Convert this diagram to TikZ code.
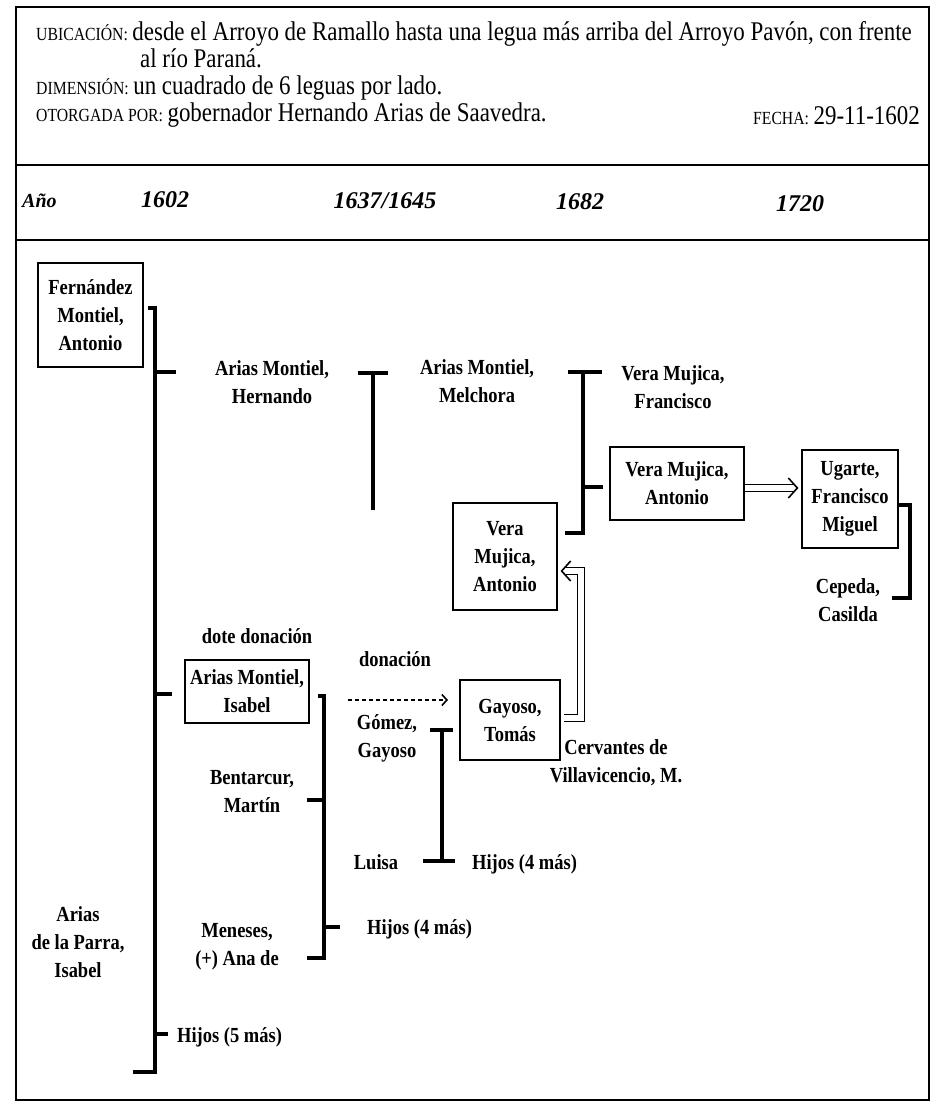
\documentclass[tikz,border=0pt]{standalone}
\usepackage{fontspec}
\setmainfont{Liberation Serif}
\newfontfamily\condfont[FakeStretch=0.85]{Liberation Serif}
\newfontfamily\namefont[FakeStretch=0.86]{Liberation Serif}
\usetikzlibrary{arrows.meta,calc}
\newcommand\hlabel[1]{{\fontsize{18.5}{18.5}\selectfont #1}}
\begin{document}
\begin{tikzpicture}[x=1pt,y=-1pt,
  frame/.style={line width=2pt},
  hd/.style={font=\condfont\fontsize{27}{27}\selectfont, inner sep=0pt, anchor=base west},
  yr/.style={font=\bfseries\itshape\fontsize{24}{24}\selectfont, inner sep=0pt, anchor=base},
  nm/.style={font=\namefont\bfseries\fontsize{21.5}{28}\selectfont, align=center, inner sep=0pt},
  bx/.style={nm, draw, line width=1.3pt},
  br/.style={line width=4pt},
  dotarr/.style={line width=1.6pt, dash pattern=on 4pt off 3pt, -{Straight Barb[length=5pt,width=11pt,line width=1.6pt]}},
  dblline/.style={double, double distance=6pt, line width=1.3pt},
  chev/.style={line width=1.6pt, line join=miter}
]
\useasboundingbox (0,0) rectangle (936,1114);
% frame
\draw[frame] (16,7) rectangle (929,1100);
\draw[frame] (16,165) -- (929,165);
\draw[frame] (16,240) -- (929,240);
% header
\node[hd] (ub1) at (36,40) {\hlabel{UBICACIÓN:}\,desde el Arroyo de Ramallo hasta una legua más arriba del Arroyo Pavón, con frente};
\node[hd] (ub2) at (140,67) {al río Paraná.};
\node[hd] (dim) at (36,94) {\hlabel{DIMENSIÓN:}\,un cuadrado de 6 leguas por lado.};
\node[hd] (oto) at (36,121) {\hlabel{OTORGADA POR:}\,gobernador Hernando Arias de Saavedra.};
\node[hd, anchor=base east] (fec) at (920,124) {\hlabel{FECHA:}\,29-11-1602};
% years
\node[yr, anchor=base west, font=\bfseries\itshape\fontsize{20}{20}\selectfont] (ano) at (22,207) {Año};
\node[yr] (y1) at (165,207) {1602};
\node[yr] (y2) at (385,208) {1637/1645};
\node[yr] (y3) at (580,209) {1682};
\node[yr] (y4) at (800,211) {1720};
% people
\node[bx, minimum width=105pt, minimum height=104pt] (fma) at (90.5,315) {Fernández\\Montiel,\\Antonio};
\node[nm] (ahe) at (272,382) {Arias Montiel,\\Hernando};
\node[nm] (ame) at (477,381) {Arias Montiel,\\Melchora};
\node[nm] (vmf) at (673,387) {Vera Mujica,\\Francisco};
\node[bx, minimum width=134pt, minimum height=73pt] (vma) at (677,483.5) {Vera Mujica,\\Antonio};
\node[bx, minimum width=96pt, minimum height=98pt] (ufm) at (850,499) {Ugarte,\\Francisco\\Miguel};
\node[nm] (cca) at (848,600) {Cepeda,\\Casilda};
\node[bx, minimum width=104pt, minimum height=107pt] (vmb) at (505,556.5) {Vera\\Mujica,\\Antonio};
\node[nm] (dote) at (257,636) {dote donación};
\node[bx, minimum width=124pt, minimum height=63pt] (ami) at (247,691.5) {Arias Montiel,\\Isabel};
\node[nm] (don) at (395,659) {donación};
\node[bx, minimum width=100pt, minimum height=80pt] (gto) at (510,720) {Gayoso,\\Tomás};
\node[nm] (gga) at (387,738) {Gómez,\\Gayoso};
\node[nm] (cvm) at (616,763) {Cervantes de\\Villavicencio, M.};
\node[nm] (bma) at (252,792) {Bentarcur,\\Martín};
\node[nm] (lui) at (376,862) {Luisa};
\node[nm, anchor=west] (h4a) at (472,864) {Hijos (4 más)};
\node[nm] (apa) at (78,942) {Arias\\de la Parra,\\Isabel};
\node[nm] (men) at (237,947) {Meneses,\\(+) Ana de};
\node[nm, anchor=west] (h4b) at (367,929) {Hijos (4 más)};
\node[nm, anchor=west] (h5) at (177,1037) {Hijos (5 más)};
% bracket coordinates
\coordinate (b1t) at (155,308);
\coordinate (b1b) at (155,1072);
\coordinate (b2t) at (373,373);
\coordinate (b2b) at (373,510);
\coordinate (b3t) at (583,372);
\coordinate (b3b) at (583,533);
\coordinate (b4t) at (324,696);
\coordinate (b4b) at (324,958);
\coordinate (b5t) at (910,505);
\coordinate (b5b) at (910,598);
\coordinate (b6t) at (442,730);
\coordinate (b6b) at (442,861);
% bracket Fernández / Arias de la Parra
\draw[br] ($(b1t)+(-7,0)$) -- (b1t) -- (b1b) -- ++(-22,0);
\draw[br] (b1t |- 0,372) -- ++(21,0);
\draw[br] (b1t |- 0,694) -- ++(17,0);
\draw[br] (b1t |- 0,1034) -- ++(13,0);
% T Hernando / Melchora
\draw[br] ($(b2t)+(-15,0)$) -- ($(b2t)+(15,0)$);
\draw[br] (b2t) -- (b2b);
% bracket Melchora / Vera Mujica Francisco
\draw[br] ($(b3t)+(-15,0)$) -- ($(b3t)+(19,0)$);
\draw[br] (b3t) -- (b3b) -- ++(-18,0);
\draw[br] (b3t |- 0,487) -- ++(20,0);
% bracket Ugarte / Cepeda
\draw[br] ($(b5t)+(-12,0)$) -- (b5t) -- (b5b) -- ++(-18,0);
% bracket Isabel
\draw[br] ($(b4t)+(-6,0)$) -- (b4t) -- (b4b) -- ++(-17,0);
\draw[br] (b4t |- 0,800) -- ++(-17,0);
\draw[br] (b4t |- 0,927) -- ++(16,0);
% T Gómez Gayoso / Luisa
\draw[br] ($(b6t)+(-12,0)$) -- ($(b6t)+(11,0)$);
\draw[br] (b6t) -- (b6b);
\draw[br] ($(b6b)+(-19,0)$) -- ($(b6b)+(13,0)$);
% arrows
\coordinate (d1) at (348,700);
\coordinate (d2) at (448,700);
\draw[dotarr] (d1) -- (d2);
% double arrow Vera Mujica -> Ugarte
\coordinate (t1) at ($(ufm.west |- 0,488)+(-4,0)$);
\draw[dblline] (vma.east |- 0,488) -- ($(t1)+(-4,0)$);
\draw[chev] ($(t1)+(-9,-10)$) -- (t1) -- ($(t1)+(-9,10)$);
% double arrow Gayoso -> Vera Mujica
\coordinate (t2) at ($(vmb.east |- 0,571)+(4,0)$);
\draw[dblline] ($(gto.east |- 0,718)+(3,0)$) -- (581,718) -- (581,571) -- ($(t2)+(4,0)$);
\draw[chev] ($(t2)+(9,-10)$) -- (t2) -- ($(t2)+(9,10)$);
\end{tikzpicture}
\end{document}
